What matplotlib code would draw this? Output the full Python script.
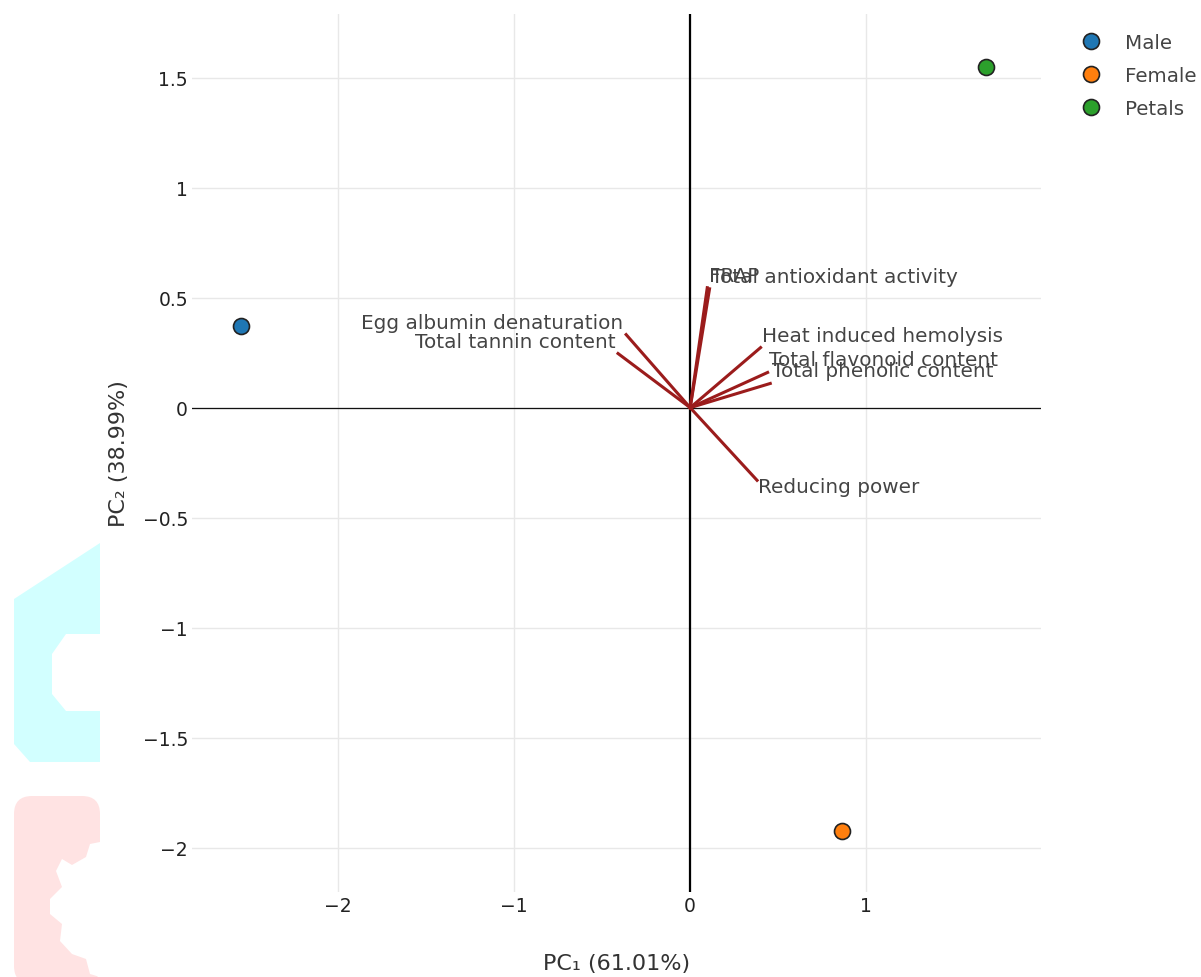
import matplotlib
matplotlib.use("Agg")
import matplotlib.pyplot as plt
from matplotlib.patches import FancyBboxPatch, Polygon

# Scores (sample positions)
groups = ["Male", "Female", "Petals"]
pc1 = [-2.55, 0.86, 1.68]
pc2 = [0.37, -1.925, 1.547]
group_colors = ["#1f77b4", "#ff7f0e", "#2ca02c"]

# Loadings (variable arrows)
variables = ["FRAP", "Total antioxidant activity", "Egg albumin denaturation",
             "Total tannin content", "Heat induced hemolysis",
             "Total flavonoid content", "Total phenolic content", "Reducing power"]
load1 = [0.097, 0.11, -0.364, -0.41, 0.40, 0.44, 0.455, 0.38]
load2 = [0.545, 0.54, 0.332, 0.246, 0.273, 0.16, 0.11, -0.33]

x_ticks = [-2, -1, 0, 1]
x_ticklabels = ["\u22122", "\u22121", "0", "1"]
y_ticks = [-2, -1.5, -1, -0.5, 0, 0.5, 1, 1.5]
y_ticklabels = ["\u22122", "\u22121.5", "\u22121", "\u22120.5", "0", "0.5", "1", "1.5"]

W, H = 1201, 978
fig = plt.figure(figsize=(W / 100, H / 100), dpi=100)


def fx(px, py):
    # pixel (from top-left) -> figure fraction
    return (px / W, 1 - py / H)


# faint watermark logo at the left edge
cyan = Polygon([fx(14, 600), fx(100, 544), fx(100, 763), fx(30, 763), fx(14, 745)],
               closed=True, transform=fig.transFigure, facecolor="#d2ffff",
               edgecolor="none", zorder=0)
fig.patches.append(cyan)
cut = Polygon([fx(100, 635), fx(66, 635), fx(52, 655), fx(52, 695), fx(66, 712),
               fx(100, 712)], closed=True, transform=fig.transFigure,
              facecolor="white", edgecolor="none", zorder=0.5)
fig.patches.append(cut)
pink = FancyBboxPatch(fx(14, 985), 86 / W, 188 / H, boxstyle="round,pad=0,rounding_size=0.015",
                      transform=fig.transFigure, facecolor="#ffe3e3", edgecolor="none",
                      zorder=0, mutation_aspect=W / H)
fig.patches.append(pink)
gear = Polygon([fx(100, 843), fx(90, 845), fx(86, 858), fx(72, 866), fx(62, 860),
                fx(56, 872), fx(62, 888), fx(50, 900), fx(50, 915), fx(62, 925),
                fx(60, 942), fx(72, 955), fx(86, 960), fx(90, 975), fx(100, 978)],
               closed=True, transform=fig.transFigure, facecolor="white",
               edgecolor="none", zorder=0.5)
fig.patches.append(gear)

ax = fig.add_axes([0.16, 0.087, 0.707, 0.898])
ax.set_facecolor("none")
ax.set_xlim(-2.83, 1.995)
ax.set_ylim(-2.20, 1.79)

# grid + zero lines
ax.grid(True, color="#e8e8e8", linewidth=1)
ax.set_axisbelow(True)
ax.axvline(0, color="black", linewidth=1.6, zorder=1)
ax.axhline(0, color="#111111", linewidth=0.9, zorder=1)

# loading arrows
for name, lx, ly in zip(variables, load1, load2):
    ax.plot([0, lx], [0, ly], color="#9b1c1c", linewidth=2.2, zorder=2)
    ha = "left" if lx >= 0 else "right"
    dx = 1 if lx >= 0 else -2
    dy = 9 if ly >= 0 else -4.5
    ax.annotate(name, (lx, ly), xytext=(dx, dy), textcoords="offset points",
                ha=ha, va="center", fontsize=14.4, color="#444444", zorder=3)

# sample scores
for g, x, y, c in zip(groups, pc1, pc2, group_colors):
    ax.plot([x], [y], "o", color=c, markersize=11.5, markeredgecolor="#222222",
            markeredgewidth=1.2, label=g, zorder=4, linestyle="none")

ax.set_xticks(x_ticks)
ax.set_xticklabels(x_ticklabels)
ax.set_yticks(y_ticks)
ax.set_yticklabels(y_ticklabels)
ax.tick_params(axis="both", length=0, labelsize=13.5, colors="#222222")
ax.tick_params(axis="y", pad=3)
ax.tick_params(axis="x", pad=3)
for s in ax.spines.values():
    s.set_visible(False)

ax.set_xlabel("PC\u2081 (61.01%)", fontsize=16, color="#333333", labelpad=27)
ax.set_ylabel("PC\u2082 (38.99%)", fontsize=16, color="#333333", labelpad=10)

ax.legend(loc="upper left", bbox_to_anchor=(1063 / W, 1 - 26 / H),
          bbox_transform=fig.transFigure, frameon=False,
          fontsize=14.3, handletextpad=0.7, labelspacing=0.7, borderaxespad=0,
          labelcolor="#444444")

fig.savefig("out.png", dpi=100)
